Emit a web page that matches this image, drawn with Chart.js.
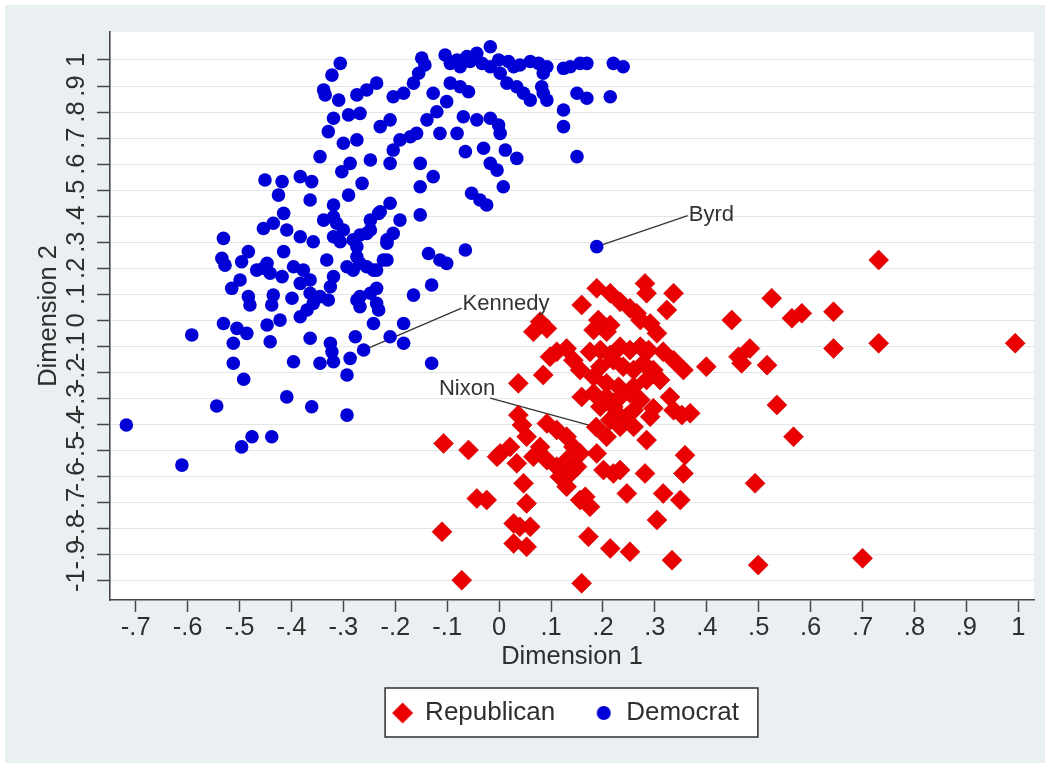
<!DOCTYPE html>
<html>
<head>
<meta charset="utf-8">
<title>Dimension 1 vs Dimension 2</title>
<script src="https://cdn.jsdelivr.net/npm/chart.js@4.4.1/dist/chart.umd.min.js"></script>
<style>
  html, body { margin: 0; padding: 0; background: #ffffff; }
  #c { display: block; }
</style>
</head>
<body>
<canvas id="c" width="1050" height="768"></canvas>
<script>
// Axis ticks and their labels
const xTicks = [-0.7, -0.6, -0.5, -0.4, -0.3, -0.2, -0.1, 0, 0.1, 0.2, 0.3, 0.4, 0.5, 0.6, 0.7, 0.8, 0.9, 1];
const xTickLabels = ['-.7', '-.6', '-.5', '-.4', '-.3', '-.2', '-.1', '0', '.1', '.2', '.3', '.4', '.5', '.6', '.7', '.8', '.9', '1'];
const yTicks = [-1, -0.9, -0.8, -0.7, -0.6, -0.5, -0.4, -0.3, -0.2, -0.1, 0, 0.1, 0.2, 0.3, 0.4, 0.5, 0.6, 0.7, 0.8, 0.9, 1];
const yTickLabels = ['-1', '-.9', '-.8', '-.7', '-.6', '-.5', '-.4', '-.3', '-.2', '-.1', '0', '.1', '.2', '.3', '.4', '.5', '.6', '.7', '.8', '.9', '1'];

// Republican members (first entry: Nixon)
const repX = [
  0.187, 0.281, 0.284, 0.188, 0.214, 0.233, 0.252, 0.265, 0.336, 0.323,
  0.159, 0.191, 0.214, 0.207, 0.182, 0.291, 0.304, 0.272, 0.079, 0.066,
  0.092, 0.448, 0.525, 0.564, 0.583, 0.644, 0.644, 0.731, 0.731, 0.994,
  0.111, 0.130, 0.098, 0.143, 0.156, 0.085, 0.175, 0.195, 0.214, 0.233,
  0.252, 0.272, 0.288, 0.316, 0.336, 0.355, 0.195, 0.220, 0.239, 0.259,
  0.278, 0.297, 0.310, 0.284, 0.259, 0.230, 0.207, 0.182, 0.399, 0.461,
  0.483, 0.467, 0.516, 0.037, 0.159, 0.182, 0.207, 0.195, 0.220, 0.233,
  0.252, 0.272, 0.259, 0.246, 0.227, 0.214, 0.207, 0.233, 0.259, 0.284,
  0.291, 0.297, 0.329, 0.336, 0.368, 0.352, 0.535, 0.567, 0.037, 0.044,
  0.053, 0.092, 0.111, 0.130, 0.143, 0.079, 0.066, 0.092, 0.111, 0.130,
  0.117, 0.137, 0.130, 0.150, 0.156, 0.002, 0.021, -0.004, -0.107, -0.059,
  0.047, 0.034, 0.188, 0.201, 0.220, 0.233, 0.281, 0.358, 0.355, 0.493,
  -0.043, -0.024, 0.053, 0.156, 0.175, 0.166, 0.246, 0.316, 0.349, -0.110,
  0.028, 0.040, 0.060, 0.028, 0.053, 0.172, 0.304, 0.214, 0.252, 0.333,
  0.499, 0.700, -0.072, 0.159
];
const repY = [
  -0.410, 0.142, 0.104, 0.123, 0.104, 0.071, 0.046, 0.027, 0.104, 0.040,
  0.059, 0.001, -0.018, -0.044, -0.037, -0.012, -0.050, 0.001, -0.005, -0.044,
  -0.031, 0.001, 0.085, 0.008, 0.027, 0.033, -0.108, -0.088, 0.232, -0.088,
  -0.121, -0.108, -0.140, -0.153, -0.191, -0.210, -0.121, -0.114, -0.133, -0.101,
  -0.114, -0.101, -0.114, -0.121, -0.153, -0.191, -0.178, -0.153, -0.178, -0.191,
  -0.165, -0.191, -0.229, -0.229, -0.255, -0.255, -0.242, -0.217, -0.178, -0.140,
  -0.108, -0.165, -0.172, -0.242, -0.294, -0.280, -0.294, -0.332, -0.332, -0.294,
  -0.280, -0.306, -0.345, -0.370, -0.357, -0.383, -0.447, -0.409, -0.409, -0.460,
  -0.370, -0.338, -0.294, -0.345, -0.357, -0.364, -0.325, -0.447, -0.364, -0.402,
  -0.447, -0.396, -0.421, -0.447, -0.486, -0.486, -0.524, -0.537, -0.562, -0.537,
  -0.601, -0.588, -0.639, -0.562, -0.511, -0.511, -0.486, -0.524, -0.473, -0.498,
  -0.626, -0.549, -0.511, -0.575, -0.588, -0.575, -0.588, -0.518, -0.588, -0.626,
  -0.684, -0.690, -0.703, -0.690, -0.716, -0.678, -0.665, -0.665, -0.690, -0.812,
  -0.780, -0.793, -0.793, -0.857, -0.870, -0.831, -0.767, -0.876, -0.889, -0.921,
  -0.940, -0.914, -0.998, -1.010
];

// Democratic members (first entries: Byrd, Kennedy)
const demX = [
  0.188, -0.261,
  -0.017, -0.043, -0.062, -0.081, -0.104, -0.094, -0.075, -0.056, -0.033, -0.017,
  -0.001, 0.018, 0.028, 0.040, 0.060, 0.076, 0.092, 0.085, 0.124, 0.137,
  0.156, 0.169, 0.220, 0.239, -0.149, -0.143, -0.155, -0.165, -0.184, -0.204,
  -0.236, -0.255, -0.274, 0.002, 0.015, 0.034, 0.047, 0.060, 0.085, 0.092,
  0.082, 0.124, 0.124, 0.150, 0.169, 0.214, 0.150, -0.127, -0.101, -0.094,
  -0.075, -0.059, -0.120, -0.139, -0.159, -0.171, -0.191, -0.204, -0.210, -0.229,
  -0.210, -0.248, -0.287, -0.274, -0.268, -0.290, -0.114, -0.081, -0.069, -0.043,
  -0.017, -0.001, 0.002, -0.065, -0.030, 0.012, 0.034, -0.017, -0.004, 0.008,
  -0.053, -0.037, -0.024, -0.152, -0.127, -0.152, -0.210, -0.229, -0.248, -0.191,
  -0.152, -0.204, -0.216, -0.255, -0.274, -0.223, -0.242, -0.268, -0.136, -0.114,
  -0.101, -0.065, -0.130, -0.165, -0.236, -0.248, -0.268, -0.242, -0.184,
  -0.306, -0.322, -0.338, -0.335, -0.309, -0.319, -0.329, -0.300, -0.345, -0.303,
  -0.451, -0.418, -0.383, -0.361, -0.264, -0.425, -0.364, -0.290, -0.319, -0.415,
  -0.435, -0.454, -0.409, -0.383, -0.358, -0.338, -0.319, -0.313, -0.300, -0.319,
  -0.306, -0.281, -0.268, -0.248, -0.232, -0.216, -0.531, -0.534, -0.528, -0.483,
  -0.496, -0.415, -0.454, -0.467, -0.441, -0.447, -0.418, -0.396, -0.377, -0.364,
  -0.383, -0.332, -0.319, -0.293, -0.274, -0.281, -0.255, -0.236, -0.216, -0.499,
  -0.515, -0.483, -0.480, -0.435, -0.438, -0.399, -0.364, -0.358, -0.370, -0.383,
  -0.345, -0.329, -0.325, -0.274, -0.268, -0.236, -0.232, -0.422, -0.447, -0.441,
  -0.531, -0.505, -0.486, -0.512, -0.592, -0.364, -0.325, -0.322, -0.277, -0.210,
  -0.184, -0.130, -0.512, -0.396, -0.345, -0.319, -0.287,
  -0.718, -0.611, -0.492, -0.544, -0.409, -0.361, -0.293, -0.293, -0.476, -0.496,
  -0.438
];
const demY = [
  0.283, -0.114,
  1.051, 1.026, 1.013, 1.000, 1.019, 0.987, 0.974, 0.994, 0.987, 0.974,
  1.000, 0.994, 0.974, 0.981, 0.994, 0.987, 0.974, 0.949, 0.968, 0.974,
  0.987, 0.987, 0.987, 0.974, 1.007, 0.981, 0.949, 0.911, 0.872, 0.859,
  0.911, 0.885, 0.866, 0.949, 0.911, 0.897, 0.872, 0.846, 0.872, 0.846,
  0.897, 0.808, 0.744, 0.872, 0.853, 0.859, 0.629, 0.872, 0.840, 0.911,
  0.897, 0.878, 0.801, 0.770, 0.718, 0.705, 0.693, 0.654, 0.603, 0.744,
  0.770, 0.616, 0.603, 0.693, 0.795, 0.789, 0.718, 0.718, 0.782, 0.770,
  0.776, 0.750, 0.718, 0.648, 0.661, 0.654, 0.622, 0.603, 0.577, 0.513,
  0.488, 0.462, 0.443, 0.513, 0.552, 0.603, 0.450, 0.417, 0.385, 0.385,
  0.405, 0.334, 0.296, 0.334, 0.283, 0.232, 0.193, 0.219, 0.257, 0.232,
  0.219, 0.270, 0.136, 0.097, 0.123, 0.104, 0.091, -0.012, -0.012,
  0.987, 0.942, 0.885, 0.866, 0.846, 0.776, 0.725, 0.680, 0.629, 0.571,
  0.539, 0.533, 0.552, 0.533, 0.526, 0.481, 0.462, 0.481, 0.443, 0.411,
  0.373, 0.353, 0.347, 0.321, 0.302, 0.385, 0.398, 0.373, 0.347, 0.321,
  0.302, 0.309, 0.328, 0.347, 0.411, 0.309, 0.315, 0.238, 0.212, 0.264,
  0.225, 0.264, 0.200, 0.193, 0.181, 0.219, 0.168, 0.206, 0.193, 0.155,
  0.142, 0.232, 0.168, 0.206, 0.244, 0.193, 0.206, 0.193, 0.232, 0.155,
  0.123, 0.091, 0.059, 0.097, 0.059, 0.085, 0.104, 0.065, 0.040, 0.014,
  0.091, 0.078, 0.129, 0.078, 0.052, 0.065, 0.040, 0.001, -0.018, -0.082,
  -0.012, -0.031, -0.050, -0.088, -0.056, -0.069, -0.088, -0.121, -0.063, -0.063,
  -0.088, -0.165, -0.165, -0.159, -0.165, -0.159, -0.146,
  -0.402, -0.556, -0.226, -0.329, -0.294, -0.332, -0.364, -0.210, -0.447, -0.486,
  -0.447
];

// Named members with a leader line to their marker
const calloutNames = ['Byrd', 'Kennedy', 'Nixon'];
const calloutSeries = ['dem', 'dem', 'rep'];
const calloutIndex = [0, 1, 0];

const FONT = "'Liberation Sans', Arial, Helvetica, sans-serif";
const INK = '#2e2e2e';
const AXIS = '#474747';
const RED = '#ea0000';
const BLUE = '#0000d6';

function toPoints(xs, ys) {
  return xs.map((x, i) => ({ x: x, y: ys[i] }));
}

// Legend marker glyphs
function markerImage(kind, color) {
  const c = document.createElement('canvas');
  c.width = 24; c.height = 24;
  const g = c.getContext('2d');
  g.fillStyle = color;
  g.beginPath();
  if (kind === 'diamond') {
    g.moveTo(12, 1.5); g.lineTo(22.5, 12); g.lineTo(12, 22.5); g.lineTo(1.5, 12);
    g.closePath();
  } else {
    g.arc(12, 12, 7, 0, Math.PI * 2);
  }
  g.fill();
  return c;
}
const legendMarkers = [markerImage('diamond', RED), markerImage('circle', BLUE)];

// Keep the legend row slightly left of the plot centre
const legendShift = {
  id: 'legendShift',
  afterLayout(chart) {
    if (chart.legend) chart.legend.left -= 12;
  }
};

// Backgrounds: outer frame, graph region, plot region, legend box
const backdrop = {
  id: 'backdrop',
  beforeDraw(chart) {
    const { ctx, chartArea: a, width, height } = chart;
    ctx.save();
    ctx.fillStyle = '#ffffff';
    ctx.fillRect(0, 0, width, height);
    ctx.fillStyle = '#eaf0f2';
    ctx.fillRect(5, 5, width - 10, height - 10);
    ctx.fillStyle = '#ffffff';
    ctx.fillRect(a.left, a.top, a.right - a.left, a.bottom - a.top);
    const hb = chart.legend && chart.legend.legendHitBoxes;
    if (hb && hb.length) {
      const last = hb[hb.length - 1];
      const left = hb[0].left - 8;
      const right = last.left + last.width + 19;
      const top = hb[0].top - 12;
      ctx.fillStyle = '#ffffff';
      ctx.fillRect(left, top, right - left, 49);
      ctx.strokeStyle = '#3a3a3a';
      ctx.lineWidth = 1.6;
      ctx.strokeRect(left, top, right - left, 49);
    }
    ctx.restore();
  }
};

// Name labels with leader lines
const calloutStyle = {
  Byrd:    { lx: 91,   ly: -31, tx: 92,   ty: -32,   align: 'left' },
  Kennedy: { lx: 98,   ly: -42, tx: 99,   ty: -46.5, align: 'left' },
  Nixon:   { lx: -106, ly: -29, tx: -101, ty: -38,   align: 'right' }
};
function calloutPixels(chart, i) {
  const xs = calloutSeries[i] === 'dem' ? demX : repX;
  const ys = calloutSeries[i] === 'dem' ? demY : repY;
  const k = calloutIndex[i];
  return {
    px: chart.scales.x.getPixelForValue(xs[k]),
    py: chart.scales.y.getPixelForValue(ys[k])
  };
}
const callouts = {
  id: 'callouts',
  beforeDatasetsDraw(chart) {
    const ctx = chart.ctx;
    ctx.save();
    ctx.strokeStyle = '#333333';
    ctx.lineWidth = 1.3;
    calloutNames.forEach((name, i) => {
      const s = calloutStyle[name];
      const { px, py } = calloutPixels(chart, i);
      ctx.beginPath();
      ctx.moveTo(px, py);
      ctx.lineTo(px + s.lx, py + s.ly);
      ctx.stroke();
    });
    ctx.restore();
  },
  afterDatasetsDraw(chart) {
    const ctx = chart.ctx;
    ctx.save();
    ctx.fillStyle = '#333333';
    ctx.font = '22px ' + FONT;
    ctx.textBaseline = 'middle';
    calloutNames.forEach((name, i) => {
      const s = calloutStyle[name];
      const { px, py } = calloutPixels(chart, i);
      ctx.textAlign = s.align;
      ctx.fillText(name, px + s.tx, py + s.ty);
    });
    ctx.restore();
  }
};

new Chart(document.getElementById('c'), {
  type: 'scatter',
  data: {
    datasets: [
      {
        label: 'Republican',
        data: toPoints(repX, repY),
        pointStyle: 'rectRot',
        pointRadius: 10,
        backgroundColor: RED,
        borderColor: '#d00000',
        borderWidth: 0.6
      },
      {
        label: 'Democrat',
        data: toPoints(demX, demY),
        pointStyle: 'circle',
        pointRadius: 6.8,
        backgroundColor: BLUE,
        borderColor: BLUE,
        borderWidth: 0
      }
    ]
  },
  options: {
    responsive: false,
    devicePixelRatio: 1,
    animation: false,
    events: [],
    layout: { padding: { left: 0, right: 16, top: 32, bottom: 32 } },
    plugins: {
      tooltip: { enabled: false },
      legend: {
        position: 'bottom',
        fullSize: false,
        labels: {
          usePointStyle: true,
          pointStyleWidth: 19,
          padding: 39,
          color: INK,
          font: { family: FONT, size: 26 },
          generateLabels(chart) {
            const items = Chart.defaults.plugins.legend.labels.generateLabels(chart);
            items.forEach(it => { it.pointStyle = legendMarkers[it.datasetIndex]; });
            return items;
          }
        }
      }
    },
    scales: {
      x: {
        type: 'linear',
        position: 'bottom',
        min: -0.7495,
        max: 1.0302,
        afterBuildTicks(scale) { scale.ticks = xTicks.map(v => ({ value: v })); },
        afterFit(scale) { scale.height = 61; },
        ticks: {
          autoSkip: false,
          maxRotation: 0,
          minRotation: 0,
          padding: 1,
          color: INK,
          font: { family: FONT, size: 25.5 },
          callback(value, index) { return xTickLabels[index]; }
        },
        grid: {
          drawOnChartArea: false,
          drawTicks: true,
          tickLength: 12,
          tickColor: AXIS,
          tickWidth: 1.5
        },
        border: { display: true, color: AXIS, width: 1.6 },
        title: {
          display: true,
          text: 'Dimension 1',
          color: INK,
          font: { family: FONT, size: 25.5 },
          padding: { top: 0, bottom: -11 }
        }
      },
      y: {
        type: 'linear',
        position: 'left',
        min: -1.0741,
        max: 1.1075,
        afterBuildTicks(scale) { scale.ticks = yTicks.map(v => ({ value: v })); },
        afterFit(scale) { scale.width = 110; },
        ticks: {
          autoSkip: false,
          minRotation: 90,
          maxRotation: 90,
          crossAlign: 'center',
          padding: 5,
          color: INK,
          font: { family: FONT, size: 25.5 },
          callback(value, index) { return yTickLabels[index]; }
        },
        grid: {
          color: '#e2e6e9',
          lineWidth: 1,
          drawTicks: true,
          tickLength: 13,
          tickColor: AXIS,
          tickWidth: 1.5
        },
        border: { display: true, color: AXIS, width: 1.6 },
        title: {
          display: true,
          text: 'Dimension 2',
          color: INK,
          font: { family: FONT, size: 25.5 },
          padding: { top: 34, bottom: 0 }
        }
      }
    }
  },
  plugins: [legendShift, backdrop, callouts]
});
</script>
</body>
</html>
